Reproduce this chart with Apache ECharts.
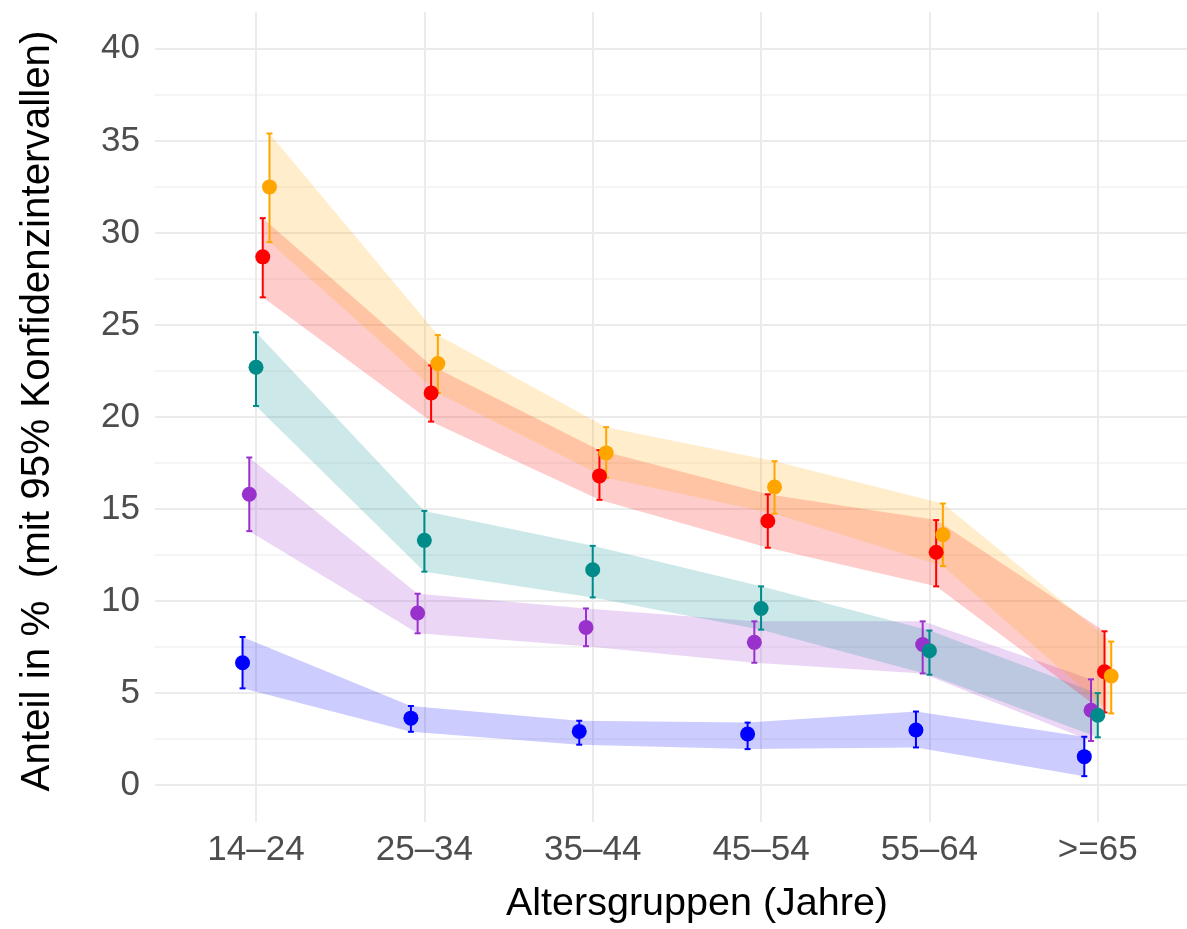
<!DOCTYPE html>
<html><head><meta charset="utf-8">
<script src="https://cdn.jsdelivr.net/npm/echarts@6/dist/echarts.min.js"></script>
<style>html,body{margin:0;padding:0;background:#fff}#c{width:1187px;height:929px}</style>
</head><body><div id="c"></div>
<script>
// Categories (age groups)
const categories = ['14–24', '25–34', '35–44', '45–54', '55–64', '>=65'];
const yTicks = [0, 5, 10, 15, 20, 25, 30, 35, 40];
const yMinorTicks = [2.5, 7.5, 12.5, 17.5, 22.5, 27.5, 32.5, 37.5];

// Series values (percent) with 95% CI
const blueEst   = [6.65, 3.64, 2.92, 2.78, 3.00, 1.55];
const blueLow   = [5.26, 2.90, 2.20, 1.96, 2.05, 0.49];
const blueHigh  = [8.05, 4.30, 3.50, 3.40, 4.00, 2.63];

const purpleEst  = [15.8, 9.35, 8.57, 7.76, 7.64, 4.07];
const purpleLow  = [13.8, 8.25, 7.55, 6.65, 6.07, 2.40];
const purpleHigh = [17.8, 10.4, 9.60, 8.90, 8.90, 5.75];

const tealEst  = [22.7, 13.3, 11.7, 9.60, 7.30, 3.80];
const tealLow  = [20.6, 11.6, 10.2, 8.45, 6.00, 2.60];
const tealHigh = [24.6, 14.9, 13.0, 10.8, 8.40, 5.00];

const redEst  = [28.7, 21.3, 16.8, 14.35, 12.65, 6.16];
const redLow  = [26.5, 19.75, 15.5, 12.9, 10.8, 3.95];
const redHigh = [30.8, 22.8, 18.2, 15.8, 14.4, 8.36];

const orangeEst  = [32.5, 22.9, 18.05, 16.2, 13.6, 5.93];
const orangeLow  = [29.5, 21.3, 16.7, 14.75, 11.9, 3.90];
const orangeHigh = [35.4, 24.45, 19.45, 17.6, 15.3, 7.80];

const groups = [
  { name: 'Gruppe 1', color: '#0000FF', est: blueEst,   low: blueLow,   high: blueHigh },
  { name: 'Gruppe 2', color: '#9932CC', est: purpleEst, low: purpleLow, high: purpleHigh },
  { name: 'Gruppe 3', color: '#008B8B', est: tealEst,   low: tealLow,   high: tealHigh },
  { name: 'Gruppe 4', color: '#FF0000', est: redEst,    low: redLow,    high: redHigh },
  { name: 'Gruppe 5', color: '#FFA500', est: orangeEst, low: orangeLow, high: orangeHigh }
];
const dodge = [-0.08, -0.04, 0, 0.04, 0.08];

function rgba(hex, a) {
  const n = parseInt(hex.slice(1), 16);
  return 'rgba(' + ((n >> 16) & 255) + ',' + ((n >> 8) & 255) + ',' + (n & 255) + ',' + a + ')';
}

const FONT = 'Liberation Sans, Arial, sans-serif';
const series = [];

groups.forEach((g, gi) => {
  const rows = categories.map((c, i) => [i + dodge[gi], g.low[i], g.high[i], g.est[i]]);
  series.push({
    type: 'custom', name: g.name + ' KI', z: 1, silent: true,
    encode: { x: 0, y: [1, 2] },
    data: rows,
    renderItem: function (params, api) {
      if (params.dataIndex !== 0) return null;
      const top = rows.map(r => api.coord([r[0], r[2]]));
      const bot = rows.map(r => api.coord([r[0], r[1]])).reverse();
      return { type: 'polygon', shape: { points: top.concat(bot) }, style: { fill: rgba(g.color, 0.2) } };
    }
  });
});
groups.forEach((g, gi) => {
  const rows = categories.map((c, i) => [i + dodge[gi], g.low[i], g.high[i]]);
  series.push({
    type: 'custom', name: g.name + ' Fehler', z: 2, silent: true,
    encode: { x: 0, y: [1, 2] },
    data: rows,
    renderItem: function (params, api) {
      const x = api.value(0);
      const pHi = api.coord([x, api.value(2)]);
      const pLo = api.coord([x, api.value(1)]);
      const cap = 3;
      const st = { stroke: g.color, lineWidth: 2 };
      return { type: 'group', children: [
        { type: 'line', shape: { x1: pHi[0], y1: pHi[1], x2: pLo[0], y2: pLo[1] }, style: st },
        { type: 'line', shape: { x1: pHi[0] - cap, y1: pHi[1], x2: pHi[0] + cap, y2: pHi[1] }, style: st },
        { type: 'line', shape: { x1: pLo[0] - cap, y1: pLo[1], x2: pLo[0] + cap, y2: pLo[1] }, style: st }
      ] };
    }
  });
});
groups.forEach((g, gi) => {
  series.push({
    type: 'scatter', name: g.name, z: 3, silent: true,
    symbol: 'circle', symbolSize: 15,
    itemStyle: { color: g.color, opacity: 1 },
    data: categories.map((c, i) => [i + dodge[gi], g.est[i]])
  });
});

const chart = echarts.init(document.getElementById('c'), null, { renderer: 'canvas' });
chart.setOption({
  animation: false,
  backgroundColor: '#ffffff',
  grid: { left: 155, top: 12, right: 0, height: 813, containLabel: false },
  xAxis: {
    type: 'value', min: -0.6, max: 5.53,
    name: 'Altersgruppen (Jahre)', nameLocation: 'middle', nameGap: 62,
    nameTextStyle: { fontFamily: FONT, fontSize: 39.5, color: '#000', padding: [0, 0, 0, 52] },
    axisLine: { show: false },
    axisTick: { show: false, customValues: [0, 1, 2, 3, 4, 5] },
    axisLabel: { customValues: [0, 1, 2, 3, 4, 5], formatter: v => categories[Math.round(v)],
      fontFamily: FONT, fontSize: 35, color: '#4d4d4d', margin: 11 },
    splitLine: { show: true, lineStyle: { color: '#ebebeb', width: 2 } }
  },
  yAxis: [{
    type: 'value', min: -2, max: 42,
    name: 'Anteil in %  (mit 95% Konfidenzintervallen)', nameLocation: 'middle', nameGap: 97,
    nameTextStyle: { fontFamily: FONT, fontSize: 40.4, color: '#000', padding: [0, 0, 0, 12] },
    axisLine: { show: false },
    axisTick: { show: false, customValues: yTicks },
    axisLabel: { customValues: yTicks, fontFamily: FONT, fontSize: 35, color: '#4d4d4d', margin: 15 },
    splitLine: { show: true, lineStyle: { color: '#ebebeb', width: 2 } }
  }, {
    type: 'value', min: -2, max: 42, position: 'left',
    axisLine: { show: false },
    axisTick: { show: false, customValues: yMinorTicks },
    axisLabel: { show: false, customValues: yMinorTicks },
    splitLine: { show: true, lineStyle: { color: '#f2f2f2', width: 1.5 } }
  }],
  series: series
});
</script>
</body></html>
